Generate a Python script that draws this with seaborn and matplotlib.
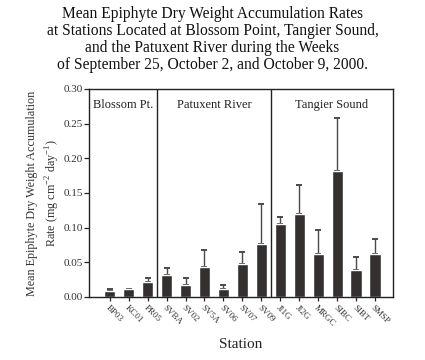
import matplotlib
matplotlib.use('Agg')
import matplotlib.pyplot as plt
import seaborn as sns
import pandas as pd

stations = ['BP03', 'KC01', 'PR05', 'SVBA', 'SV02', 'SV5A', 'SV06', 'SV07', 'SV09',
            'JI1G', 'JI2G', 'MRGC', 'SIBC', 'SIBT', 'SMSP']
means = [0.009, 0.011, 0.022, 0.031, 0.017, 0.043, 0.011, 0.048, 0.076,
         0.105, 0.119, 0.062, 0.181, 0.039, 0.062]
errors = [0.003, 0.001, 0.006, 0.011, 0.010, 0.025, 0.007, 0.017, 0.058,
          0.011, 0.043, 0.034, 0.077, 0.019, 0.021]
regions = ['Blossom Pt.', 'Patuxent River', 'Tangier Sound']
region_sizes = [3, 6, 6]

df = pd.DataFrame({'station': stations, 'rate': means, 'err': errors})

sns.set_style('ticks')
plt.rcParams['font.family'] = ['Liberation Serif', 'DejaVu Serif']

fig = plt.figure(figsize=(4.25, 3.6), dpi=100)
ax = fig.add_axes([0.209, 0.175, 0.716, 0.578])

sns.barplot(data=df, x='station', y='rate', color='#343030', width=0.6,
            errorbar=None, saturation=1, ax=ax, zorder=2)
ax.errorbar(range(len(stations)), df['rate'], yerr=[[0] * len(errors), df['err']],
            fmt='none', ecolor='#4a4a4a', elinewidth=1, capsize=2.5, capthick=1.4, zorder=1)

xlim = (-1.1, len(stations) - 0.05)
ax.set_xlim(*xlim)
ax.set_ylim(0, 0.30)
ax.set_yticks([0.0, 0.05, 0.10, 0.15, 0.20, 0.25, 0.30])
ax.set_yticklabels(['0.00', '0.05', '0.10', '0.15', '0.20', '0.25', '0.30'])

# region dividers and labels
edges = [xlim[0]]
pos = -0.5
for n in region_sizes:
    pos += n
    edges.append(pos)
edges[-1] = xlim[1]
for e in edges[1:-1]:
    ax.axvline(e, color='#222222', lw=1.0)
for name, a, b in zip(regions, edges[:-1], edges[1:]):
    ax.text((a + b) / 2, 0.286, name, ha='center', va='top', fontsize=9, color='#222222')

for s in ax.spines.values():
    s.set_visible(True)
    s.set_color('#222222')
    s.set_linewidth(1.0)

ax.tick_params(axis='y', length=3.5, width=0.9, labelsize=8, colors='#222222', labelcolor='#333333', pad=1)
ax.tick_params(axis='x', length=3, width=0.9, labelsize=6.5, colors='#222222', labelcolor='#333333', pad=2)
plt.setp(ax.get_xticklabels(), rotation=-45, ha='left', va='top', rotation_mode='anchor')

ax.set_xlabel('Station', fontsize=11, labelpad=7, color='#222222')
ax.set_ylabel('Mean Epiphyte Dry Weight Accumulation\nRate (mg cm$^{\\mathregular{-2}}$ day$^{\\mathregular{-1}}$)',
              fontsize=8.7, color='#333333', labelpad=1, linespacing=1.45)

fig.suptitle('Mean Epiphyte Dry Weight Accumulation Rates\n'
             'at Stations Located at Blossom Point, Tangier Sound,\n'
             'and the Patuxent River during the Weeks\n'
             'of September 25, October 2, and October 9, 2000.',
             y=0.982, fontsize=11.2, linespacing=1.08, color='#111111')

fig.savefig('out.png', dpi=100)
